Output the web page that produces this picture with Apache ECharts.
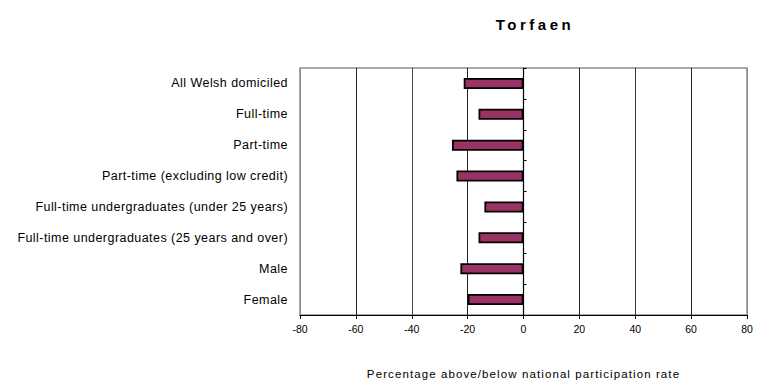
<!DOCTYPE html>
<html>
<head>
<meta charset="utf-8">
<script src="https://cdn.jsdelivr.net/npm/echarts@6/dist/echarts.min.js"></script>
<style>
  html, body { margin: 0; padding: 0; background: #fff; }
  #chart { width: 757px; height: 381px; }
</style>
</head>
<body>
<div id="chart"></div>
<script>
// Groups, listed top to bottom
const categories = [
  'All Welsh domiciled',
  'Full-time',
  'Part-time',
  'Part-time (excluding low credit)',
  'Full-time undergraduates (under 25 years)',
  'Full-time undergraduates (25 years and over)',
  'Male',
  'Female'
];
// Percentage above/below national participation rate
const values = [-21.4, -16.1, -25.6, -24.0, -14.0, -16.1, -22.6, -20.0];
const xTicks = { min: -80, max: 80, interval: 20 };
const titleText = 'Torfaen';
const axisTitle = 'Percentage above/below national participation rate';

const chart = echarts.init(document.getElementById('chart'), null, { renderer: 'svg' });
const font = '"Liberation Sans", Arial, sans-serif';

chart.setOption({
  animation: false,
  backgroundColor: '#ffffff',
  title: {
    text: titleText,
    left: 530,
    top: 12,
    textAlign: 'center',
    textStyle: { fontFamily: font, fontSize: 15, fontWeight: 'bold', color: '#000' }
  },
  grid: {
    left: 300, right: 10, top: 68, bottom: 66,
    containLabel: false,
    outerBoundsMode: 'none',
    show: true, borderColor: '#8c8c8c', borderWidth: 1.5
  },
  xAxis: {
    type: 'value',
    min: xTicks.min, max: xTicks.max, interval: xTicks.interval,
    name: axisTitle,
    nameLocation: 'middle',
    nameGap: 53,
    nameTextStyle: { fontFamily: font, fontSize: 11.5, color: '#000' },
    axisLine: { show: true, onZero: false, lineStyle: { color: '#000', width: 1.2 } },
    axisTick: { show: true, length: 4, lineStyle: { color: '#000' } },
    axisLabel: { fontFamily: font, fontSize: 10.5, color: '#000', margin: 8 },
    splitLine: {
      show: true,
      lineStyle: {
        color: ['#8c8c8c', '#222', '#444', '#222', '#111', '#222', '#333', '#222', '#8c8c8c'],
        width: 1
      }
    }
  },
  yAxis: [
    {
      type: 'category',
      data: categories,
      inverse: true,
      position: 'left',
      axisLine: { show: false, onZero: false },
      axisTick: { show: false },
      axisLabel: { fontFamily: font, fontSize: 12.5, color: '#000', margin: 12 }
    },
    {
      // zero line with short ticks between the groups
      type: 'category',
      data: categories,
      inverse: true,
      position: 'left',
      axisLine: { show: true, onZero: true, onZeroAxisIndex: 0, lineStyle: { color: '#000', width: 1.2 } },
      axisTick: { show: true, inside: true, length: 3, lineStyle: { color: '#000' } },
      axisLabel: { show: false },
      splitLine: { show: false }
    }
  ],
  series: [{
    type: 'bar',
    data: values,
    yAxisIndex: 0,
    barWidth: 11,
    itemStyle: { color: '#993366', borderColor: '#000', borderWidth: 1.8 }
  }]
});

// Spread out the letters of the titles and the group labels
const spacing = { [titleText]: '3.5px', [axisTitle]: '1.1px' };
categories.forEach(function (c) { spacing[c] = '0.45px'; });
document.querySelectorAll('#chart svg text').forEach(function (t) {
  const s = spacing[t.textContent];
  if (s) t.setAttribute('letter-spacing', s);
});
</script>
</body>
</html>
